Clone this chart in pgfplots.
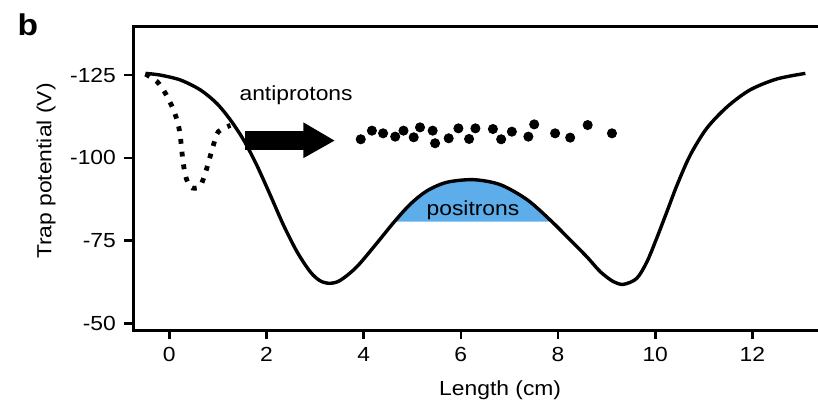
\documentclass[border=0pt]{standalone}
\usepackage{fontspec}
\setmainfont{Liberation Sans}[FakeStretch=1.12]
\usepackage{pgfplots}
\pgfplotsset{compat=1.18}
\usepgfplotslibrary{fillbetween}
\definecolor{posblue}{RGB}{92,173,234}

\begin{document}
\begin{tikzpicture}
\begin{axis}[
  name=ax, at={(0,0)}, anchor=south west,
  scale only axis, width=342.35pt, height=151.65pt,
  xmin=-0.74, xmax=13.35, ymin=-139.6, ymax=-48, y dir=reverse,
  axis line style={draw=none},
  xtick={0,2,4,6,8,10,12},
  ytick={-125,-100,-75,-50}, yticklabels={-125,-100,-75,-50},
  xtick pos=left, ytick pos=left,
  tick align=outside, major tick length=4.5pt,
  tick style={line width=1.3pt, black},
  /pgf/number format/assume math mode=true,
  tick label style={font=\fontsize{10.2}{12}\selectfont, inner sep=0pt},
  xticklabel shift=4pt, yticklabel shift=4pt,
]
% positron cloud
\addplot[draw=none, name path=base, forget plot] coordinates {(4.0,-80.7) (8.5,-80.7)};
\addplot[smooth, line width=1.7pt, name path=trap] coordinates {
  (-0.49,-125.5) (-0.19,-125.0) (0.23,-123.5) (0.64,-120.5) (0.98,-116.4)
  (1.26,-111.4) (1.53,-105.4) (1.80,-97.8) (2.08,-88.7) (2.35,-79.7)
  (2.63,-71.6) (2.90,-65.6) (3.10,-62.9) (3.30,-62.1) (3.52,-63.0)
  (3.86,-67.1) (4.27,-74.2) (4.62,-80.5) (4.96,-86.0) (5.30,-90.0)
  (5.71,-92.6) (6.26,-93.4) (6.81,-91.9) (7.36,-87.4) (7.84,-81.2)
  (8.25,-75.2) (8.60,-70.0) (8.87,-65.6) (9.14,-62.6) (9.35,-61.8)
  (9.62,-63.6) (9.83,-68.6) (10.03,-75.7) (10.24,-83.7) (10.45,-91.8)
  (10.72,-100.8) (11.06,-108.9) (11.48,-115.4) (11.95,-120.5) (12.50,-123.8)
  (13.09,-125.5)
};
\addplot[posblue, draw=none] fill between[of=trap and base, soft clip={domain=4.63:7.87}];
% antiproton well
\addplot[smooth, line width=2.4pt, dash pattern=on 2.4pt off 4pt] coordinates {
  (-0.49,-125.3) (-0.25,-123.0) (-0.08,-119.5) (0.06,-115.4) (0.16,-111.4)
  (0.22,-107.4) (0.25,-103.3) (0.28,-99.3) (0.33,-94.8) (0.42,-91.4)
  (0.53,-90.8) (0.64,-91.5) (0.74,-95.3) (0.82,-99.3) (0.91,-103.9)
  (1.01,-107.9) (1.26,-109.8)
};
% arrow
\addplot[fill=black, draw=none] coordinates {
  (1.56,-108.1) (2.76,-108.1) (2.76,-110.7) (3.40,-105.2)
  (2.76,-99.9) (2.76,-102.4) (1.56,-102.4)
} --cycle;
% antiprotons
\addplot[only marks, mark=*, mark size=2.3pt, black] coordinates {
  (3.94,-105.6) (4.17,-108.2) (4.40,-107.4) (4.65,-106.4) (4.82,-108.2)
  (5.03,-106.2) (5.16,-109.2) (5.42,-108.2) (5.47,-104.4) (5.75,-105.9)
  (5.95,-108.9) (6.17,-105.7) (6.30,-108.9) (6.66,-108.7) (6.83,-105.6)
  (7.05,-107.9) (7.39,-106.4) (7.51,-110.1) (7.94,-107.4) (8.25,-106.1)
  (8.61,-109.9) (9.11,-107.4)
};
\node[anchor=base, font=\fontsize{10.2}{12}\selectfont] at (axis cs:2.61,-117.45) {antiprotons};
\node[anchor=base, font=\fontsize{10.2}{12}\selectfont] at (axis cs:6.25,-82.7) {positrons};
\end{axis}
\draw[line width=1.5pt] (ax.north east) -- (ax.north west) -- (ax.south west) -- (ax.south east);
\node[rotate=90, anchor=base, font=\fontsize{10.2}{12}\selectfont] at ([xshift=-41pt,yshift=3.6pt]ax.west) {Trap potential (V)};
\node[anchor=base, font=\fontsize{10.2}{12}\selectfont] at ([xshift=12.25pt,yshift=-32.5pt]ax.south) {Length (cm)};
\node[anchor=base west, font=\fontsize{15}{18}\selectfont\bfseries, inner sep=0pt] at ([xshift=-58pt,yshift=-4.2pt]ax.north west) {b};
\pgfresetboundingbox
\path ([xshift=-66.65pt,yshift=-36pt]ax.south west) rectangle ([yshift=13.35pt]ax.north east);
\end{tikzpicture}
\end{document}
